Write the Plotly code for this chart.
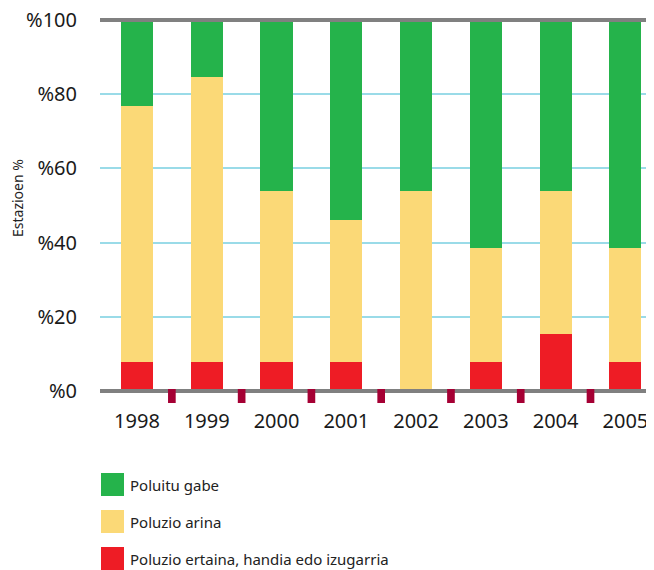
import plotly.graph_objects as go

# ─── DATA ─────────────────────────────────────────────
years = ["1998", "1999", "2000", "2001", "2002", "2003", "2004", "2005"]

# % of stations per class
severe = [7.7, 7.7, 7.7, 7.7, 0.0, 7.7, 15.4, 7.7]
light = [69.2, 76.9, 46.2, 38.5, 53.8, 30.8, 38.5, 30.8]
clean = [23.1, 15.4, 46.2, 53.8, 46.2, 61.5, 46.2, 61.5]

y_ticks = [0, 20, 40, 60, 80, 100]
y_ticktext = ["%0", "%20", "%40", "%60", "%80", "%100"]

legend_labels = ["Poluitu gabe", "Poluzio arina", "Poluzio ertaina, handia edo izugarria"]

# ─── STYLE ────────────────────────────────────────────
GREEN = "#25B34B"
YELLOW = "#FBD977"
RED = "#EE1C25"
MAROON = "#A50034"
GRAY = "#808080"
GRID = "#9ADBE8"
FONT = "Noto Sans"

# page body has an 8px margin, so the figure is a bit smaller than the window
OFF = 8
W, H = 654 - OFF, 570 - OFF
ML, MR, MT, MB = 100 - OFF, 0, 20 - OFF, 179
PW, PH = W - ML - MR, H - MT - MB


def py(px):
    # window pixel row -> paper y
    return (MT + PH - (px - OFF)) / PH


def px_(px):
    # window pixel column -> paper x
    return (px - OFF - ML) / PW


fig = go.Figure()
for vals, col, name in [(severe, RED, legend_labels[2]),
                        (light, YELLOW, legend_labels[1]),
                        (clean, GREEN, legend_labels[0])]:
    fig.add_trace(go.Bar(x=years, y=vals, name=name, marker_color=col,
                         marker_line_width=0, width=0.46))

# top/bottom gray lines
for yv in (0, 1):
    fig.add_shape(type="line", xref="paper", yref="paper", x0=0, x1=1, y0=yv, y1=yv,
                  line=dict(color=GRAY, width=4), layer="above")

# little maroon separators under the axis
for i in range(len(years) - 1):
    fig.add_shape(type="rect", xref="x", yref="paper", x0=i + 0.5 - 0.055, x1=i + 0.5 + 0.055,
                  y0=py(389), y1=py(403), fillcolor=MAROON, line_width=0, layer="above")

# manual legend
rows = [(GREEN, legend_labels[0]), (YELLOW, legend_labels[1]), (RED, legend_labels[2])]
for k, (col, txt) in enumerate(rows):
    top = 473 + k * 37
    y0, y1 = py(top), py(top + 23)
    fig.add_shape(type="rect", xref="paper", yref="paper",
                  x0=px_(101), x1=px_(124), y0=y0, y1=y1,
                  fillcolor=col, line_width=0)
    fig.add_annotation(xref="paper", yref="paper", x=px_(128), y=(y0 + y1) / 2,
                       text=txt, showarrow=False, xanchor="left", yanchor="middle",
                       font=dict(family=FONT, size=15, color="#222"))

# y title
fig.add_annotation(xref="paper", yref="paper", x=px_(17), y=py(198),
                   text="Estazioen %", textangle=-90, showarrow=False,
                   xanchor="center", yanchor="middle",
                   font=dict(family=FONT, size=14, color="#222"))

fig.update_layout(
    width=W, height=H,
    margin=dict(l=ML, r=MR, t=MT, b=MB, autoexpand=False),
    barmode="stack",
    showlegend=False,
    plot_bgcolor="white", paper_bgcolor="white",
    font=dict(family=FONT, size=20, color="#1a1a1a"),
    xaxis=dict(range=[-0.53, 7.41], showgrid=False, showline=False, zeroline=False,
               automargin=False, ticklabeloverflow="allow",
               ticks="outside", ticklen=12, tickcolor="rgba(0,0,0,0)",
               tickfont=dict(size=20)),
    yaxis=dict(range=[0, 100], tickvals=y_ticks, ticktext=y_ticktext,
               automargin=False, ticklabeloverflow="allow",
               showgrid=True, gridcolor=GRID, gridwidth=2, zeroline=False,
               showline=False, ticks="outside", ticklen=18, tickcolor="rgba(0,0,0,0)",
               tickfont=dict(size=20)),
)

fig.write_html("out.html")
